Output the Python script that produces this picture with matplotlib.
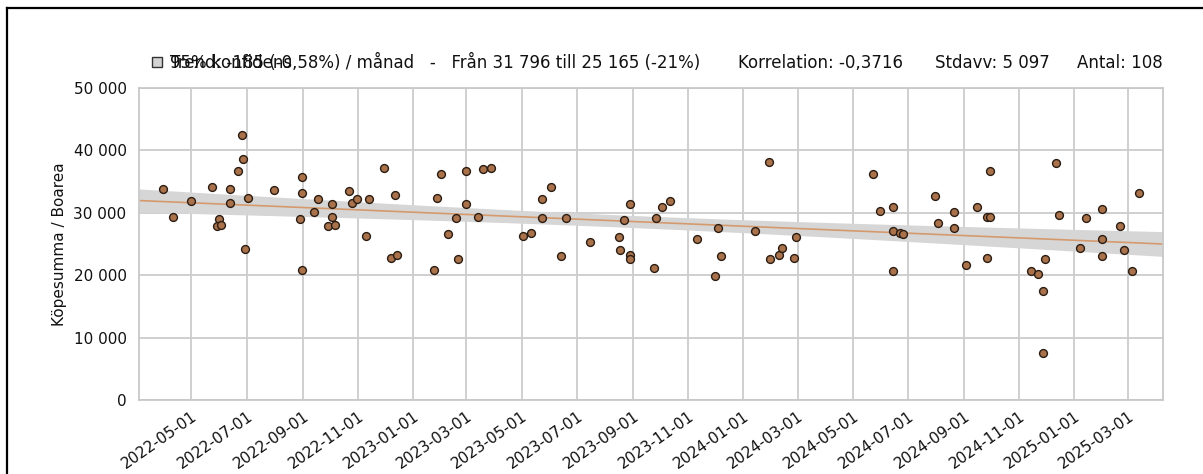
import matplotlib
matplotlib.use("Agg")
import matplotlib.pyplot as plt
import matplotlib.dates as mdates
from matplotlib.lines import Line2D
from matplotlib.patches import Rectangle
from matplotlib.ticker import FuncFormatter
import numpy as np
import pandas as pd

# ---------------- data ----------------
sale_dates = [
    "2022-03-31", "2022-04-11", "2022-05-01", "2022-05-24", "2022-05-31", "2022-05-29",
    "2022-06-03", "2022-06-13", "2022-06-13", "2022-06-22", "2022-06-26", "2022-06-27",
    "2022-06-29", "2022-07-03", "2022-07-31", "2022-08-31", "2022-08-31", "2022-08-29",
    "2022-08-31", "2022-09-13", "2022-09-18", "2022-10-03", "2022-10-03", "2022-09-29",
    "2022-10-07", "2022-10-22", "2022-10-26", "2022-10-31", "2022-11-10", "2022-11-13",
    "2022-11-30", "2022-12-12", "2022-12-08", "2022-12-14",
    "2023-02-01", "2023-01-27", "2023-01-24", "2023-02-09", "2023-02-17", "2023-02-20",
    "2023-02-28", "2023-02-28", "2023-03-14", "2023-03-19", "2023-03-28", "2023-05-02",
    "2023-05-11", "2023-05-23", "2023-06-02", "2023-05-23", "2023-06-14", "2023-06-19",
    "2023-07-16", "2023-08-17", "2023-08-18", "2023-08-22", "2023-08-29", "2023-08-29",
    "2023-08-29", "2023-09-24", "2023-09-27", "2023-10-03", "2023-10-12", "2023-11-11",
    "2023-12-04", "2023-12-07", "2023-12-01", "2024-01-14", "2024-01-29", "2024-01-30",
    "2024-02-10", "2024-02-13", "2024-02-26", "2024-02-28", "2024-05-23", "2024-05-31",
    "2024-06-14", "2024-06-15", "2024-06-22", "2024-06-26", "2024-06-15", "2024-07-31",
    "2024-08-03", "2024-08-21", "2024-08-21", "2024-09-03", "2024-09-15", "2024-09-26",
    "2024-09-30", "2024-09-30", "2024-09-26",
    "2024-12-12", "2024-12-15", "2024-11-29", "2024-11-14", "2024-11-22", "2024-11-27",
    "2024-11-27", "2025-01-14", "2025-01-07", "2025-02-01", "2025-02-01", "2025-01-31",
    "2025-02-20", "2025-02-25", "2025-03-06", "2025-03-13",
]
price_per_area = [
    33870, 29330, 31890, 34130, 29070, 27840,
    28110, 33870, 31630, 36690, 42510, 38670,
    24270, 32370, 33650, 35680, 33120, 29070,
    20800, 30130, 32160, 31360, 29390, 27840,
    28110, 33440, 31630, 32160, 26350, 32160,
    37230, 32910, 22770, 23310,
    36210, 32420, 20800, 26560, 29120, 22560,
    36690, 31360, 29390, 36960, 37170, 26350,
    26830, 32160, 34130, 29120, 23040, 29120,
    25280, 26080, 24050, 28850, 31360, 23310,
    22560, 21230, 29120, 30880, 31890, 25810,
    27630, 23040, 19950, 27090, 38190, 22560,
    23310, 24320, 22770, 26080, 36160, 30350,
    30880, 27090, 26830, 26560, 20690, 32640,
    28370, 30080, 27630, 21650, 30880, 29390,
    29390, 36690, 22770,
    37970, 29600, 22560, 20690, 20270, 17440,
    7570, 29120, 24320, 30670, 25810, 23040,
    27840, 24050, 20690, 33170,
]
trend_start = 31796
trend_end = 25165
y_ticks = [0, 10000, 20000, 30000, 40000, 50000]
legend_label = "95% konfidens"
trend_text = "Trend: -185 (-0,58%) / månad   -   Från 31 796 till 25 165 (-21%)"
corr_text = "Korrelation: -0,3716"
std_text = "Stdavv: 5 097"
count_text = "Antal: 108"
y_label = "Köpesumma / Boarea"

# ---------------- figure ----------------
plt.rcParams["font.family"] = ["DejaVu Sans"]
W, H = 1203, 474
fig = plt.figure(figsize=(W / 100, H / 100), dpi=100)
fig.patch.set_facecolor("white")
ax = fig.add_axes([139 / W, 74 / H, 1024 / W, 312 / H])

dates = pd.to_datetime(sale_dates)
xnum = mdates.date2num(dates)
vals = np.array(price_per_area, dtype=float)

x0, x1 = xnum.min(), xnum.max()
pad = 0.025 * (x1 - x0)
xl, xr = x0 - pad, x1 + pad

# trend line (from stated endpoints) and confidence band
slope = (trend_end - trend_start) / (x1 - x0)
def trend(t):
    return trend_start + slope * (t - x0)

resid = vals - trend(xnum)
n = len(vals)
s = np.sqrt(np.sum(resid ** 2) / (n - 2))
xbar = xnum.mean()
sxx = np.sum((xnum - xbar) ** 2)
tt = np.linspace(xl, xr, 300)
se = s * np.sqrt(1.0 / n + (tt - xbar) ** 2 / sxx)
ax.fill_between(tt, trend(tt) - 1.96 * se, trend(tt) + 1.96 * se,
                color="#d6d6d6", lw=0, zorder=2)
ax.plot(tt, trend(tt), color="#d49a6e", lw=1.2, zorder=2.5)

ax.scatter(xnum, vals, s=32, c="#a9724b", edgecolors="#2a1c12",
           linewidths=1.0, zorder=3)

ax.set_xlim(xl, xr)
ax.set_ylim(0, 50000)
ax.set_yticks(y_ticks)
ax.yaxis.set_major_formatter(FuncFormatter(lambda v, p: f"{int(v):,}".replace(",", " ")))
ax.xaxis.set_major_locator(mdates.MonthLocator(bymonth=[1, 3, 5, 7, 9, 11]))
ax.xaxis.set_major_formatter(mdates.DateFormatter("%Y-%m-%d"))

ax.grid(True, color="#cccccc", lw=1.3)
ax.set_axisbelow(True)
for sp in ax.spines.values():
    sp.set_color("#c8c8c8")
    sp.set_linewidth(1.3)
ax.tick_params(axis="both", length=0, labelsize=11, colors="#111111")
ax.tick_params(axis="y", pad=9)
ax.tick_params(axis="x", pad=6)
for lab in ax.get_xticklabels():
    lab.set_rotation(35)
    lab.set_ha("right")
    lab.set_rotation_mode("anchor")

ax.set_ylabel(y_label, fontsize=11, color="#111111")
ax.yaxis.set_label_coords((67 - 139) / 1024, 0.5)

# header texts
ty = 1 - 63 / H
hfs = 12
fig.add_artist(Rectangle((152 / W, 1 - 67 / H), 10 / W, 10 / H, transform=fig.transFigure,
                         facecolor="#d3d3d3", edgecolor="#333333", lw=1))
fig.text(170 / W, ty, legend_label, fontsize=hfs, va="center", ha="left", color="#111111")
fig.text(170 / W, ty, trend_text, fontsize=hfs, va="center", ha="left", color="#111111")
fig.text(738 / W, ty, corr_text, fontsize=hfs, va="center", ha="left", color="#111111")
fig.text(935 / W, ty, std_text, fontsize=hfs, va="center", ha="left", color="#111111")
fig.text(1163 / W, ty, count_text, fontsize=hfs, va="center", ha="right", color="#111111")

# outer black frame (left and top edges visible)
fig.add_artist(Line2D([7 / W, 7 / W], [0, 1 - 8 / H], transform=fig.transFigure,
                      color="black", lw=1.6))
fig.add_artist(Line2D([7 / W, 1], [1 - 8 / H, 1 - 8 / H], transform=fig.transFigure,
                      color="black", lw=1.6))

fig.savefig("out.png", dpi=100)
